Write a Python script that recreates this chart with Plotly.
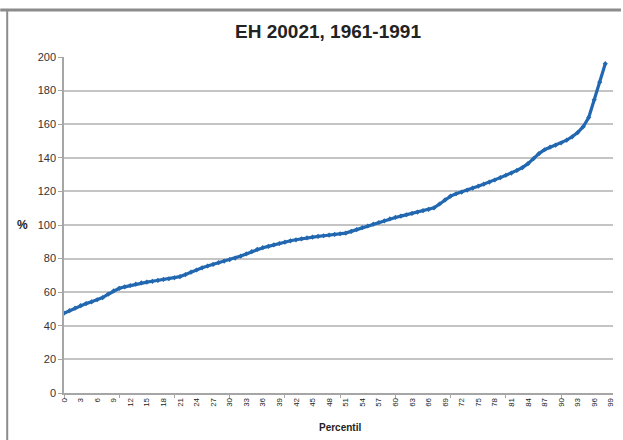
import plotly.graph_objects as go

title_text = "EH 20021, 1961-1991"
x_title = "Percentil"
y_title = "%"

percentiles = list(range(0, 99))
values = [
    47.5, 49.0, 50.5, 52.0, 53.2, 54.3, 55.5, 56.8, 58.8, 60.8,
    62.3, 63.2, 64.0, 64.8, 65.5, 66.0, 66.5, 67.0, 67.6, 68.0,
    68.6, 69.3, 70.5, 72.0, 73.2, 74.5, 75.6, 76.6, 77.6, 78.5,
    79.4, 80.3, 81.5, 82.8, 84.2, 85.5, 86.5, 87.3, 88.2, 89.0,
    89.8, 90.6, 91.2, 91.8, 92.3, 92.8, 93.2, 93.6, 94.0, 94.4,
    94.8, 95.2, 96.2, 97.3, 98.4, 99.4, 100.5, 101.5, 102.5, 103.6,
    104.5, 105.3, 106.1, 106.9, 107.7, 108.5, 109.3, 110.2, 112.5, 115.0,
    117.2, 118.6, 119.6, 120.8, 122.0, 123.1, 124.3, 125.5, 126.8, 128.2,
    129.6, 130.9, 132.5, 134.2, 136.5, 139.5, 142.5, 144.8, 146.3, 147.5,
    148.8, 150.5, 152.5, 155.0, 158.5, 164.0, 174.5, 185.0, 196.0,
]
x_tick_vals = list(range(0, 100, 3))
x_tick_text = [str(v) for v in x_tick_vals]
y_tick_vals = list(range(0, 201, 20))

W, H = 623, 440
L, R, T, B = 64, 8, 57, 47
pw, ph = W - L - R, H - T - B

def px_x(x):
    return (x - L) / pw

def px_y(y):
    return (H - B - y) / ph

line_color = "#2268b0"

fig = go.Figure()
fig.add_trace(go.Scatter(
    x=percentiles, y=values, mode="lines+markers",
    line=dict(color=line_color, width=3.2),
    marker=dict(symbol="diamond", size=4, color=line_color),
    showlegend=False, hoverinfo="x+y",
))
fig.add_trace(go.Scatter(
    x=percentiles, y=values, mode="lines", xaxis="x2",
    line=dict(color="rgba(0,0,0,0)", width=0),
    showlegend=False, hoverinfo="skip",
))

fig.update_layout(
    width=W, height=H,
    margin=dict(l=L, r=R, t=T, b=B),
    paper_bgcolor="white", plot_bgcolor="white",
    font=dict(family="Liberation Sans, Arial, sans-serif", color="#333333"),
    title=dict(text="<b>" + title_text + "</b>", x=328 / W,
               xanchor="center", y=1 - 31 / H, yanchor="middle",
               font=dict(size=19, color="#222222")),
    xaxis=dict(
        range=[0, 99.4], tickmode="array", tickvals=x_tick_vals, ticktext=x_tick_text,
        tickangle=-90, tickfont=dict(size=8, color="#222222"),
        showgrid=False, zeroline=False, showline=True, linecolor="#a6a6a6", linewidth=1.5,
        ticks="", ticklen=0,
    ),
    xaxis2=dict(
        range=[0, 99.4], overlaying="x", anchor="y", side="bottom",
        tickmode="linear", tick0=0, dtick=10, ticks="outside", ticklen=4,
        tickcolor="#a6a6a6", showticklabels=False, showgrid=False, zeroline=False,
        showline=False,
    ),
    yaxis=dict(
        range=[0, 200], tickmode="array", tickvals=y_tick_vals,
        tickfont=dict(size=11, color="#333333"),
        showgrid=True, gridcolor="#c4c4c4", gridwidth=1.5,
        zeroline=False, showline=True, linecolor="#a6a6a6", linewidth=1.5,
        ticks="outside", ticklen=4, tickcolor="#a6a6a6",
    ),
    annotations=[
        dict(text="<b>" + x_title + "</b>", xref="paper", yref="paper",
             x=px_x(341), y=px_y(427), showarrow=False,
             font=dict(size=10, color="#222222"), xanchor="center", yanchor="middle"),
        dict(text="<b>" + y_title + "</b>", xref="paper", yref="paper",
             x=px_x(22), y=px_y(225), showarrow=False,
             font=dict(size=12, color="#222222"), xanchor="center", yanchor="middle"),
    ],
    shapes=[
        dict(type="line", xref="paper", yref="paper",
             x0=px_x(0), x1=px_x(W), y0=px_y(10), y1=px_y(10),
             line=dict(color="#8c8c8c", width=3)),
        dict(type="line", xref="paper", yref="paper",
             x0=px_x(7), x1=px_x(7), y0=px_y(10), y1=px_y(H),
             line=dict(color="#8c8c8c", width=2)),
    ],
)

fig.write_html(
    "out.html",
    config={"displayModeBar": False},
    post_script="document.body.style.margin='0';document.body.style.overflow='hidden';",
)
